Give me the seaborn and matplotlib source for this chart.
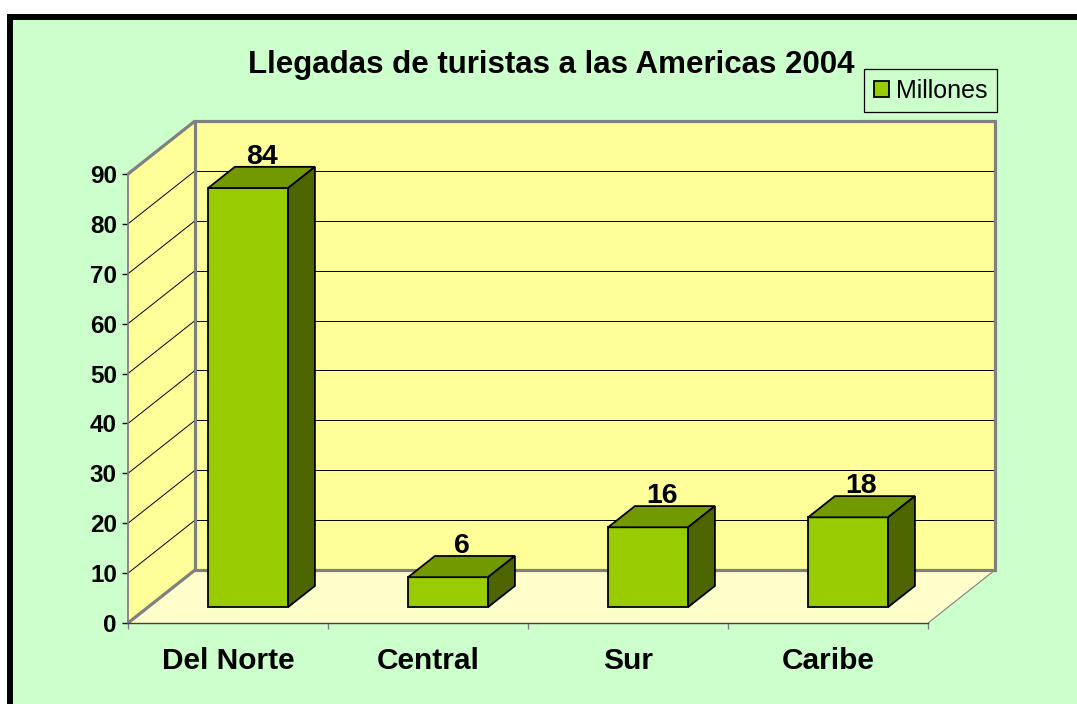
import matplotlib
matplotlib.use('Agg')
import matplotlib.pyplot as plt
import matplotlib.transforms as mtransforms
from matplotlib.patches import Polygon, Rectangle
import seaborn as sns

categorias = ['Del Norte', 'Central', 'Sur', 'Caribe']
millones = [84, 6, 16, 18]
y_ticks = [0, 10, 20, 30, 40, 50, 60, 70, 80, 90]
titulo = 'Llegadas de turistas a las Americas 2004'
serie = 'Millones'

W, H = 1077, 704
sns.set_theme(style='white')
plt.rcParams['font.family'] = ['Liberation Sans', 'DejaVu Sans']
plt.rcParams['text.color'] = 'black'
plt.rcParams['xtick.labelcolor'] = 'black'
plt.rcParams['ytick.labelcolor'] = 'black'

fig = plt.figure(figsize=(W / 100, H / 100), dpi=100)
fig.patch.set_facecolor('white')
# green chart area with thick black frame (runs off the right / bottom)
fig.add_artist(Rectangle((10 / W, -0.1), 1.2, 1 - 17 / H + 0.1, transform=fig.transFigure,
                         facecolor='#CCFFCC', edgecolor='black', linewidth=4.3, zorder=0))

ax = fig.add_axes([128 / W, 81 / H, 800 / W, 449 / H])
ax.set_facecolor('none')

# depth of the pseudo-3d box in data units
DX, DY = 0.335, 10.62
x0, x1, ymax = -0.5, 3.5, 90


def P(x, y, d):
    return (x + d * DX, y + d * DY)


def face(pts, color, z, ec='none', lw=0):
    ax.add_patch(Polygon(pts, closed=True, facecolor=color, edgecolor=ec,
                         linewidth=lw, zorder=z, clip_on=False))


def line(a, b, color, lw, z):
    ax.plot([a[0], b[0]], [a[1], b[1]], color=color, lw=lw, zorder=z,
            clip_on=False, solid_capstyle='butt')


# walls and floor
face([P(x0, 0, 0), P(x1, 0, 0), P(x1, 0, 1), P(x0, 0, 1)], '#FFFFCC', 0.5)
face([P(x0, 0, 0), P(x0, ymax, 0), P(x0, ymax, 1), P(x0, 0, 1)], '#FFFF99', 0.5)
face([P(x0, 0, 1), P(x1, 0, 1), P(x1, ymax, 1), P(x0, ymax, 1)], '#FFFF99', 0.5)

for v in y_ticks[1:]:
    line(P(x0, v, 1), P(x1, v, 1), 'black', 0.7, 1)
    line(P(x0, v, 0), P(x0, v, 1), 'black', 0.7, 1)

gray = '#808080'
box = [P(x0, 0, 1), P(x0, ymax, 1), P(x1, ymax, 1), P(x1, 0, 1), P(x0, 0, 1)]
ax.plot([p[0] for p in box], [p[1] for p in box], color=gray, lw=2.3, zorder=1.5,
        clip_on=False, solid_joinstyle='miter')
line(P(x0, ymax, 0), P(x0, ymax, 1), gray, 2.3, 1.5)
line(P(x0, 0, 0), P(x0, 0, 1), gray, 2.3, 1.5)
line(P(x1, 0, 0), P(x1, 0, 1), gray, 0.8, 1.5)

# bars: front faces from seaborn, shifted into the box
sns.barplot(x=categorias, y=millones, color='#99CC00', saturation=1, width=0.4,
            edgecolor='black', linewidth=1.3, label=serie, ax=ax, zorder=3)

d0, d1 = 0.3, 0.7
shift = mtransforms.Affine2D().translate(d0 * DX, d0 * DY) + ax.transData
for bar, v in zip(ax.containers[0], millones):
    xl = bar.get_x()
    xr = xl + bar.get_width()
    h = bar.get_height()
    bar.set_transform(shift)
    bar.set_clip_on(False)
    face([P(xl, h, d0), P(xr, h, d0), P(xr, h, d1), P(xl, h, d1)], '#739900', 3, 'black', 1.3)
    face([P(xr, 0, d0), P(xr, h, d0), P(xr, h, d1), P(xr, 0, d1)], '#4D6600', 3, 'black', 1.3)
    xc = (xl + xr) / 2
    ax.annotate(str(v), (P(xc, h, 0.5)[0], P(xc, h, d1)[1]), xytext=(0, -2),
                textcoords='offset points', ha='center', va='bottom',
                fontsize=20.5, fontweight='bold', zorder=4, annotation_clip=False)

ax.set_xlim(x0, x1)
ax.set_ylim(0, ymax)
ax.set_yticks(y_ticks)
ax.set_yticklabels([str(t) for t in y_ticks], fontsize=17.5, fontweight='bold')
ax.set_xticks(range(len(categorias)))
ax.set_xticklabels(categorias, fontsize=21.5, fontweight='bold')
ax.set_xticks([-0.5, 0.5, 1.5, 2.5, 3.5], minor=True)
ax.tick_params(axis='x', which='major', length=0, pad=17, bottom=True)
ax.tick_params(axis='x', which='minor', length=4, width=1, color=gray, bottom=True)
ax.tick_params(axis='y', length=4, width=1, color='black', pad=4, left=True)
ax.set_xlabel('')
ax.set_ylabel('')
for s in ['top', 'right']:
    ax.spines[s].set_visible(False)
ax.spines['left'].set_color(gray)
ax.spines['left'].set_linewidth(1.3)
ax.spines['bottom'].set_color('#404040')
ax.spines['bottom'].set_linewidth(1)

fig.text(551 / W, 1 - 73 / H, titulo, ha='center', va='baseline', color='black',
         fontsize=22.5, fontweight='bold')

leg = ax.legend(loc='upper left', bbox_to_anchor=(864 / W, 1 - 69 / H),
                bbox_transform=fig.transFigure, frameon=True, fancybox=False,
                edgecolor='black', facecolor='#CCFFCC', framealpha=1, fontsize=18,
                handlelength=0.6, handleheight=0.6, handletextpad=0.3,
                borderpad=0.38, borderaxespad=0)
leg.get_frame().set_linewidth(0.9)
for t in leg.get_texts():
    t.set_color('black')

fig.savefig('out.png', dpi=100, facecolor=fig.get_facecolor())
